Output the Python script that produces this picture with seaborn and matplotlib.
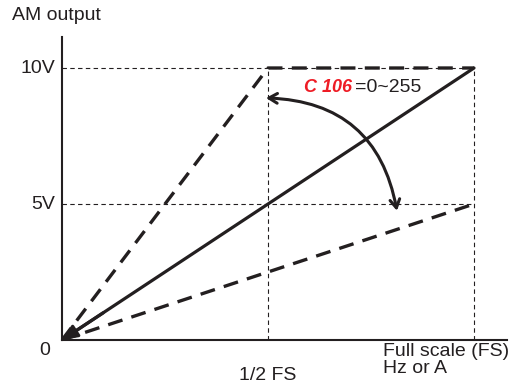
import matplotlib
matplotlib.use("Agg")
import matplotlib.pyplot as plt
import seaborn as sns

# Output ratio (x as fraction of full scale) vs AM output voltage
solid_x = [0.0, 1.0]
solid_y = [0.0, 10.0]
upper_x = [0.0, 0.5, 1.0]
upper_y = [0.0, 10.0, 10.0]
lower_x = [0.0, 1.0]
lower_y = [0.0, 5.0]

volt_ticks = [5, 10]
volt_labels = ["5V", "10V"]
fs_ticks = [0.5, 1.0]

ink = "#231f20"
red = "#ee1c25"

sns.set_style("white")
plt.rcParams["font.family"] = ["Liberation Sans", "DejaVu Sans"]

fig = plt.figure(figsize=(5.27, 3.87), dpi=100)
ax = fig.add_axes([62 / 527, 47 / 387, 445 / 527, 303 / 387])
ax.set_xlim(0, 445 / 412)
ax.set_ylim(0, 303 / 27.2)

# thin guide lines
thin = dict(color=ink, lw=0.8, linestyle=(0, (4, 3)))
ax.hlines(volt_ticks, 0, 1.0, **thin)
ax.vlines(fs_ticks, 0, 10, **thin)

# main characteristic lines
sns.lineplot(x=upper_x, y=upper_y, ax=ax, sort=False, color=ink, lw=2.4, linestyle=(0, (4.5, 2.8)))
sns.lineplot(x=lower_x, y=lower_y, ax=ax, color=ink, lw=2.4, linestyle=(0, (4.5, 2.8)))
sns.lineplot(x=solid_x, y=solid_y, ax=ax, color=ink, lw=2.3)
ax.annotate("", xy=(0, 0), xytext=(0.1, 1.0),
            arrowprops=dict(arrowstyle="-|>,head_length=0.9,head_width=0.4", color=ink, lw=2.3,
                            shrinkA=0, shrinkB=0))

# curved adjustment arrow
ax.annotate("", xy=(0.495, 8.9), xytext=(0.813, 4.75),
            arrowprops=dict(arrowstyle="<->,head_length=0.6,head_width=0.35", color=ink, lw=2.2,
                            shrinkA=0, shrinkB=0, connectionstyle="arc3,rad=0.4"))

ax.text(0.588, 9.3, "C 106", color=red, fontsize=13, style="italic", fontweight="bold",
        va="center", ha="left")
ax.text(0.712, 9.3, "=0~255", color=ink, fontsize=14, va="center", ha="left")

# axes
for s in ["top", "right"]:
    ax.spines[s].set_visible(False)
for s in ["left", "bottom"]:
    ax.spines[s].set_color(ink)
    ax.spines[s].set_linewidth(1.5)
ax.set_xticks([])
ax.set_yticks([])

for v, lab in zip(volt_ticks, volt_labels):
    ax.text(-0.017, v, lab, ha="right", va="center", fontsize=14, color=ink, clip_on=False)
ax.text(-0.03, -0.4, "0", ha="right", va="center", fontsize=14, color=ink, clip_on=False)
ax.text(0.5, -1.3, "1/2 FS", ha="center", va="center", fontsize=14, color=ink, clip_on=False)
ax.text(0.779, -0.12, "Full scale (FS)\nHz or A", ha="left", va="top", fontsize=14, color=ink,
        linespacing=1.0, clip_on=False)
fig.text(12 / 527, 1 - 15 / 387, "AM output", ha="left", va="center", fontsize=14, color=ink)

fig.savefig("out.png", dpi=100)
